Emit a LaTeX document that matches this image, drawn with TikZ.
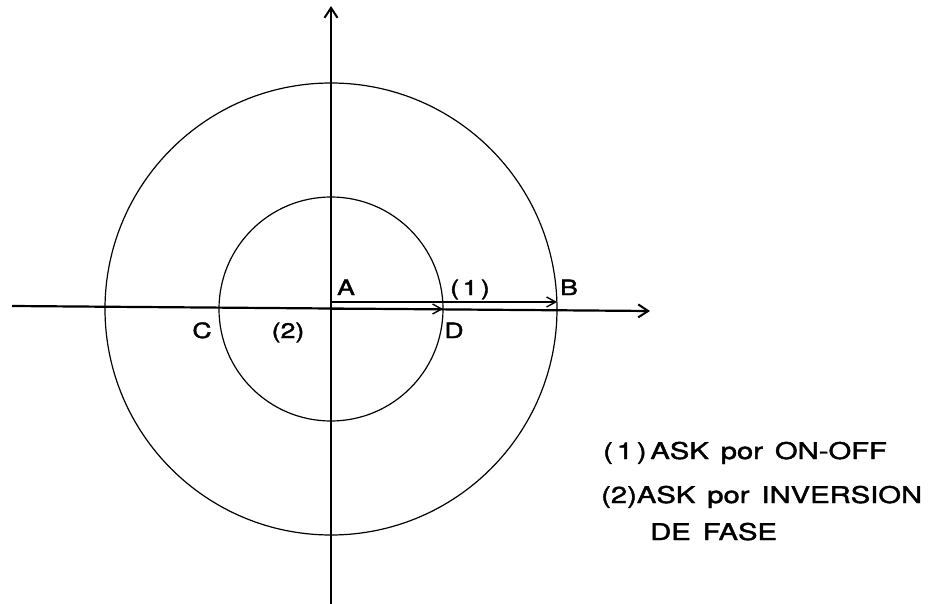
\documentclass[tikz,border=0pt]{standalone}
\usepackage{fontspec}
\setmainfont{TeX Gyre Heros}[FakeStretch=1.27,FakeBold=1.8]
\usetikzlibrary{arrows.meta}
\tikzset{
  axisline/.style={line width=2.2pt,-{Straight Barb[length=10pt,width=13pt,line width=2pt]}},
  circ/.style={line width=1.2pt},
  vec/.style={line width=1.3pt,-{Straight Barb[length=9pt,width=10pt,line width=1.4pt]}},
  lbl/.style={font=\fontsize{21}{25}\selectfont, inner sep=0pt, anchor=base},
  legend/.style={font=\fontsize{23}{28}\selectfont, inner sep=0pt, anchor=base west}
}
\begin{document}
\begin{tikzpicture}[x=1pt,y=-1pt]
\useasboundingbox (0,0) rectangle (940,604);
\coordinate (O) at (331,309);
\coordinate (L) at (12,306);
\coordinate (R) at (650,311);
\coordinate (T) at (331,6);
\coordinate (Bot) at (331,604);
\coordinate (As) at (331,302);
\coordinate (Bt) at (557,302);
\coordinate (Dt) at (443,309);
% axes
\draw[axisline] (L) -- (R);
\draw[axisline] (Bot) -- (T);
% circles
\draw[circ] (O) circle[radius=226];
\draw[circ] (O) circle[radius=112];
% vectors
\draw[vec] (As) -- (Bt);
\draw[vec] (O) -- (Dt);
% labels
\node[lbl] (lA) at (346,295) {A};
\node[lbl] (l1) at (470,295) {(\,1\,)};
\node[lbl] (lB) at (569,295) {B};
\node[lbl] (lC) at (202,338) {C};
\node[lbl] (l2) at (288,338) {(2)};
\node[lbl] (lD) at (454,338) {D};
% legend
\node[legend] (g1) at (603,459) {(\,1\,)\,ASK\, por\, ON-OFF};
\node[legend] (g2) at (601,503) {(2)ASK\, por\, INVERSION};
\node[legend] (g3) at (650,540) {DE\, FASE};
\end{tikzpicture}
\end{document}
